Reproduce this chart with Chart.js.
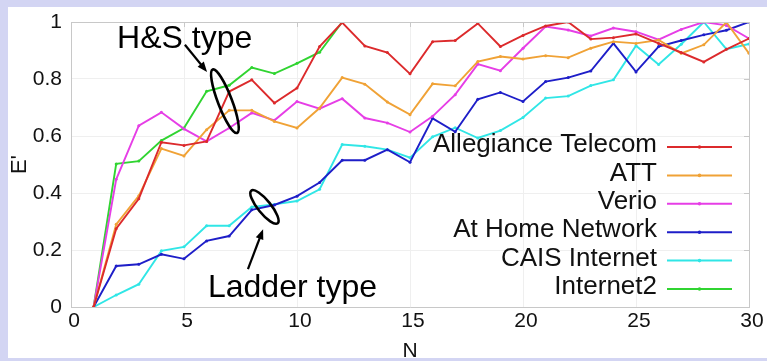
<!DOCTYPE html>
<html>
<head>
<meta charset="utf-8">
<script src="https://cdn.jsdelivr.net/npm/chart.js@4.4.1/dist/chart.umd.min.js"></script>
<style>
  html, body { margin: 0; padding: 0; background: #d3d5f3; }
  #chart { display: block; }
</style>
</head>
<body>
<canvas id="chart" width="767" height="361"></canvas>
<script>
// values
const N = [1, 2, 3, 4, 5, 6, 7, 8, 9, 10, 11, 12, 13, 14, 15, 16, 17, 18, 19, 20, 21, 22, 23, 24, 25, 26, 27, 28, 29, 30];

const allegiance = [0, 0.275, 0.38, 0.578, 0.567, 0.581, 0.756, 0.797, 0.716, 0.768, 0.914, 0.998, 0.916, 0.893, 0.818,
  0.931, 0.935, 0.995, 0.914, 0.953, 0.986, 1.0, 0.94, 0.945, 0.958, 0.925, 0.893, 0.86, 0.904, 0.942];
const att = [0, 0.29, 0.39, 0.556, 0.53, 0.622, 0.69, 0.69, 0.651, 0.628, 0.698, 0.805, 0.782, 0.719, 0.675,
  0.783, 0.776, 0.861, 0.879, 0.87, 0.882, 0.875, 0.908, 0.931, 0.925, 0.937, 0.89, 0.92, 0.999, 0.89];
const verio = [0, 0.448, 0.636, 0.683, 0.625, 0.581, 0.628, 0.681, 0.655, 0.721, 0.696, 0.731, 0.663, 0.646, 0.614,
  0.669, 0.745, 0.852, 0.829, 0.908, 0.984, 0.972, 0.951, 0.979, 0.966, 0.938, 0.974, 1.0, 0.988, 0.942];
const atHome = [0, 0.144, 0.15, 0.185, 0.169, 0.232, 0.249, 0.341, 0.358, 0.389, 0.437, 0.515, 0.515, 0.552, 0.508,
  0.662, 0.615, 0.729, 0.753, 0.721, 0.791, 0.805, 0.828, 0.925, 0.825, 0.914, 0.935, 0.955, 0.971, 1.0];
const cais = [0, 0.042, 0.08, 0.197, 0.211, 0.285, 0.285, 0.351, 0.36, 0.372, 0.413, 0.57, 0.564, 0.552, 0.524,
  0.597, 0.629, 0.593, 0.619, 0.665, 0.733, 0.74, 0.777, 0.797, 0.917, 0.851, 0.922, 1.0, 0.905, 0.923];
const internet2 = [0, 0.502, 0.512, 0.584, 0.628, 0.757, 0.778, 0.84, 0.819, 0.855, 0.894, 1.0];

const seriesNames = ['Allegiance Telecom', 'ATT', 'Verio', 'At Home Network', 'CAIS Internet', 'Internet2'];
const seriesValues = [allegiance, att, verio, atHome, cais, internet2];
const seriesColors = ['#dc2a2c', '#f0a236', '#e63ee6', '#1e1ec8', '#30e6e6', '#30d431'];

const xTicks = { min: 0, max: 30, step: 5 };
const yTicks = { min: 0, max: 1, step: 0.2 };

const FONT = '"Liberation Sans", Arial, sans-serif';
Chart.defaults.font.family = FONT;

// lavender frame with white panel
const background = {
  id: 'background',
  beforeDraw(chart) {
    const c = chart.ctx;
    c.save();
    c.fillStyle = '#d3d5f3';
    c.fillRect(0, 0, chart.width, chart.height);
    c.fillStyle = '#ffffff';
    c.fillRect(8, 7, chart.width - 8, 351);
    c.restore();
  }
};

// top/right frame lines with inward ticks
const box = {
  id: 'box',
  afterDatasetsDraw(chart) {
    const c = chart.ctx, a = chart.chartArea;
    const x = chart.scales.x, y = chart.scales.y;
    c.save();
    c.strokeStyle = '#c8c8c8';
    c.lineWidth = 1;
    c.beginPath();
    c.moveTo(a.left, a.top + 0.5); c.lineTo(a.right + 0.5, a.top + 0.5); c.lineTo(a.right + 0.5, a.bottom);
    y.ticks.forEach(t => {
      const py = Math.round(y.getPixelForValue(t.value)) + 0.5;
      c.moveTo(a.right, py); c.lineTo(a.right - 5, py);
    });
    x.ticks.forEach(t => {
      const px = Math.round(x.getPixelForValue(t.value)) + 0.5;
      c.moveTo(px, a.top); c.lineTo(px, a.top + 5);
    });
    c.stroke();
    c.restore();
  }
};

// legend: right-aligned names, line sample on the right
const legendRight = {
  id: 'legendRight',
  afterDraw(chart) {
    const c = chart.ctx, a = chart.chartArea;
    const sets = chart.data.datasets;
    const lineEnd = a.right - 17, lineStart = lineEnd - 65;
    c.save();
    c.font = '26px ' + FONT;
    c.textAlign = 'right';
    c.textBaseline = 'middle';
    sets.forEach((ds, i) => {
      const rowY = a.bottom - 18 - (sets.length - 1 - i) * 28.4;
      c.fillStyle = '#111';
      c.fillText(ds.label, lineStart - 10, rowY - 2);
      c.strokeStyle = ds.borderColor;
      c.lineWidth = 2;
      c.beginPath(); c.moveTo(lineStart, rowY); c.lineTo(lineEnd, rowY); c.stroke();
      c.fillStyle = ds.borderColor;
      c.beginPath(); c.arc((lineStart + lineEnd) / 2, rowY, 1.8, 0, Math.PI * 2); c.fill();
    });
    c.restore();
  }
};

// "H&S type" / "Ladder type" notes, placed in data units
const notes = {
  id: 'notes',
  afterDraw(chart) {
    const c = chart.ctx, x = chart.scales.x, y = chart.scales.y;
    const P = (n, v) => [x.getPixelForValue(n), y.getPixelForValue(v)];
    c.save();
    c.fillStyle = '#000';
    c.strokeStyle = '#000';
    c.font = '32px ' + FONT;
    c.textAlign = 'left';
    c.textBaseline = 'alphabetic';

    const label = (txt, n, v) => { const p = P(n, v); c.fillText(txt, p[0], p[1]); };
    const ring = (n, v, rx, ry, deg) => {
      const p = P(n, v);
      c.lineWidth = 2.6;
      c.beginPath(); c.ellipse(p[0], p[1], rx, ry, deg * Math.PI / 180, 0, Math.PI * 2); c.stroke();
    };
    const arrow = (n0, v0, n1, v1) => {
      const a = P(n0, v0), b = P(n1, v1);
      const ang = Math.atan2(b[1] - a[1], b[0] - a[0]);
      c.lineWidth = 2.2;
      c.beginPath(); c.moveTo(a[0], a[1]);
      c.lineTo(b[0] - 7 * Math.cos(ang), b[1] - 7 * Math.sin(ang)); c.stroke();
      c.beginPath();
      c.moveTo(b[0], b[1]);
      c.lineTo(b[0] - 10 * Math.cos(ang) + 4 * Math.sin(ang), b[1] - 10 * Math.sin(ang) - 4 * Math.cos(ang));
      c.lineTo(b[0] - 10 * Math.cos(ang) - 4 * Math.sin(ang), b[1] - 10 * Math.sin(ang) + 4 * Math.cos(ang));
      c.closePath(); c.fill();
    };

    label('H&S type', 2.04, 0.909);
    arrow(5.04, 0.92, 6.02, 0.825);
    ring(6.81, 0.722, 34, 7, 69);

    label('Ladder type', 6.06, 0.035);
    arrow(7.83, 0.133, 8.5, 0.273);
    ring(8.56, 0.351, 21, 6.5, 51);
    c.restore();
  }
};

const datasets = seriesNames.map((name, i) => ({
  label: name,
  data: seriesValues[i].map((v, j) => ({ x: N[j], y: v })),
  borderColor: seriesColors[i],
  backgroundColor: seriesColors[i],
  borderWidth: 1.9,
  pointRadius: 1.5,
  pointHoverRadius: 1.5,
  pointBorderWidth: 0,
  tension: 0,
  fill: false
}));

new Chart(document.getElementById('chart'), {
  type: 'line',
  data: { datasets },
  options: {
    responsive: false,
    animation: false,
    devicePixelRatio: 1,
    layout: { padding: { left: 0, right: 18, top: 22, bottom: 0 } },
    plugins: { legend: { display: false }, tooltip: { enabled: false } },
    scales: {
      x: {
        type: 'linear',
        min: xTicks.min, max: xTicks.max,
        ticks: { stepSize: xTicks.step, color: '#111', font: { size: 21 }, padding: 2, labelOffset: 3, maxRotation: 0 },
        grid: { color: '#efefef', drawTicks: false },
        border: { color: '#c8c8c8' },
        title: { display: true, text: 'N', color: '#111', font: { size: 21 }, padding: { top: 0, bottom: -3 } },
        afterFit(s) { s.height = 54; }
      },
      y: {
        min: yTicks.min, max: yTicks.max,
        ticks: {
          stepSize: yTicks.step, color: '#111', font: { size: 21 }, padding: 9,
          callback: v => String(Math.round(v * 10) / 10)
        },
        grid: { color: '#efefef', drawTicks: false },
        border: { color: '#c8c8c8' },
        title: { display: true, text: "E'", color: '#111', font: { size: 22 }, padding: { top: 7, bottom: 0 } },
        afterFit(s) { s.width = 71; }
      }
    }
  },
  plugins: [background, box, legendRight, notes]
});
</script>
</body>
</html>
